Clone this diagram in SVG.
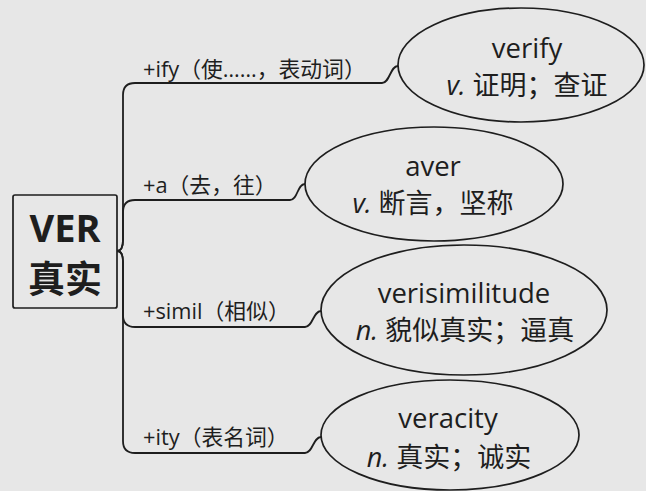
<svg xmlns="http://www.w3.org/2000/svg" width="646" height="491" viewBox="0 0 646 491">
<style>
text{font-family:"Open Sans","Noto Sans CJK SC",sans-serif;fill:#1e1e1e}
.lbl{font-size:21.8px}
.w{font-size:27.5px;text-anchor:middle}
.m{font-size:27px;text-anchor:middle}
.it{font-style:italic}
.conn path{fill:none;stroke:#1e1e1e;stroke-width:1.8}
.shape{fill:none;stroke:#1e1e1e;stroke-width:1.7}
</style>
<rect width="646" height="491" fill="#e7e7e7"/>
<g id="root">
<rect class="shape" x="13" y="195" width="104" height="113" rx="2"/>
<text x="65" y="242" style="font-size:38px;font-weight:bold;text-anchor:middle">VER</text>
<text x="65" y="293" style="font-size:37px;font-weight:bold;text-anchor:middle">真实</text>
</g>
<g class="conn" id="connectors">
<path d="M117,251 Q123,251 123,240 V95 Q123,83 135,83 H382 C390,83 390,66 398,66"/>
<path d="M117,251 Q123,251 123,240 V212 Q123,200 135,200 H290 C298,200 297,184 305,184"/>
<path d="M117,251 Q123,251 123,262 V315 Q123,327 135,327 H305 C313,327 313,311 321,311"/>
<path d="M117,251 Q123,251 123,262 V441 Q123,453 135,453 H305 C313,453 313,437 321,437"/>
</g>
<g id="lbl1"><text class="lbl" x="143" y="77">+ify（使……，表动词）</text></g>
<g id="lbl2"><text class="lbl" x="143" y="193">+a（去，往）</text></g>
<g id="lbl3"><text class="lbl" x="143" y="319">+simil（相似）</text></g>
<g id="lbl4"><text class="lbl" x="143" y="445">+ity（表名词）</text></g>
<g id="verify">
<ellipse class="shape" cx="521" cy="65" rx="123" ry="57"/>
<text class="w" x="527" y="58">verify</text>
<text class="m" x="527" y="95"><tspan class="it">v.</tspan> 证明；查证</text>
</g>
<g id="aver">
<ellipse class="shape" cx="434" cy="184" rx="129" ry="57"/>
<text class="w" x="433" y="176">aver</text>
<text class="m" x="433" y="213"><tspan class="it">v.</tspan> 断言，坚称</text>
</g>
<g id="verisimilitude">
<ellipse class="shape" cx="464" cy="310" rx="143" ry="65"/>
<text class="w" x="464" y="303">verisimilitude</text>
<text class="m" x="465" y="340"><tspan class="it">n.</tspan> 貌似真实；逼真</text>
</g>
<g id="veracity">
<ellipse class="shape" cx="450" cy="435" rx="129" ry="55"/>
<text class="w" x="448" y="428">veracity</text>
<text class="m" x="449" y="467"><tspan class="it">n.</tspan> 真实；诚实</text>
</g>
</svg>
